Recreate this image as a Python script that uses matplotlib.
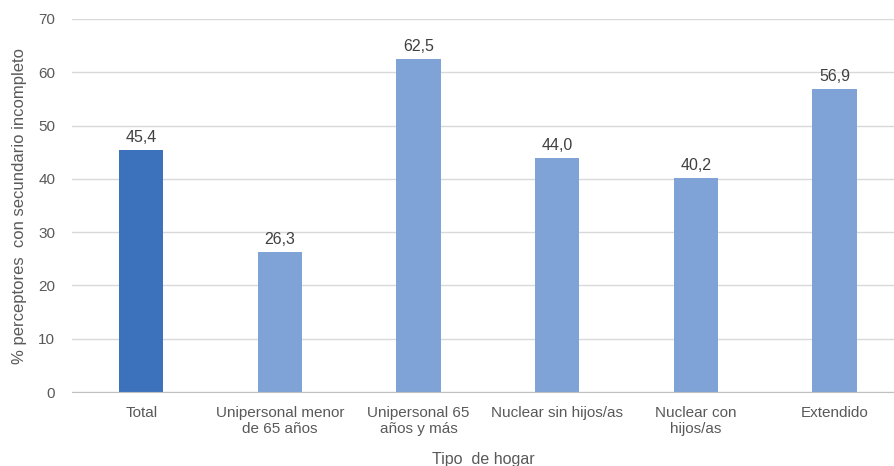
import matplotlib.pyplot as plt

plt.rcParams['font.family'] = ['Liberation Sans', 'DejaVu Sans']

categorias = ['Total', 'Unipersonal menor\nde 65 años', 'Unipersonal 65\naños y más',
              'Nuclear sin hijos/as', 'Nuclear con\nhijos/as', 'Extendido']
valores = [45.4, 26.3, 62.5, 44.0, 40.2, 56.9]
etiquetas = ['45,4', '26,3', '62,5', '44,0', '40,2', '56,9']

gris = '#595959'
colores = ['#3C72BC'] + ['#7FA3D7'] * 5

fig = plt.figure(figsize=(8.94, 4.66), dpi=100)
ax = fig.add_axes([72 / 894, 1 - 392 / 466, 822 / 894, 373 / 466])

x = range(len(categorias))
bars = ax.bar(x, valores, width=0.32, color=colores, zorder=3)
for b, t in zip(bars, etiquetas):
    ax.text(b.get_x() + b.get_width() / 2, b.get_height() + 0.9, t,
            ha='center', va='bottom', fontsize=11.5, color='#404040')

ax.set_ylim(0, 70)
ax.set_xlim(-0.5, 5.43)
ax.set_yticks(range(0, 71, 10))
ax.set_xticks(list(x))
ax.set_xticklabels(categorias, fontsize=11, color=gris, linespacing=1.15)
ax.tick_params(axis='y', labelsize=11, labelcolor=gris, length=0, pad=12)
ax.tick_params(axis='x', length=0, pad=10)
ax.grid(axis='y', color='#D9D9D9', linewidth=1, zorder=0)

for s in ['top', 'right', 'left']:
    ax.spines[s].set_visible(False)
ax.spines['bottom'].set_color('#BFBFBF')
ax.spines['bottom'].set_zorder(4)

ax.set_ylabel('% perceptores  con secundario incompleto', fontsize=12, color=gris, labelpad=8)
ax.set_xlabel('Tipo  de hogar', fontsize=11.5, color=gris, labelpad=12)

fig.savefig('out.png', dpi=100)
